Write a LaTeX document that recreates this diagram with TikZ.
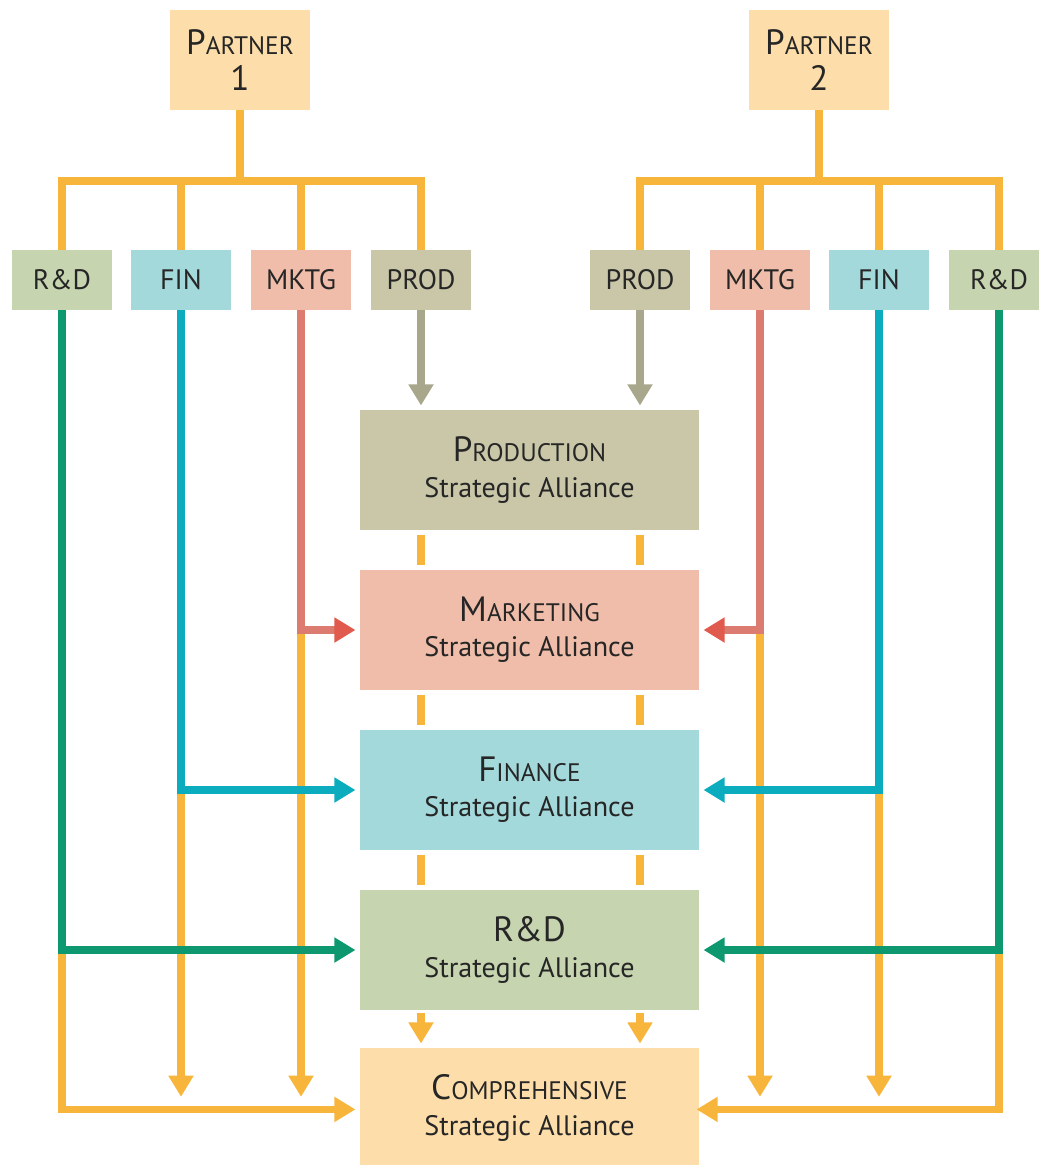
\documentclass[tikz,border=0pt]{standalone}
\usepackage{fontspec}
\setmainfont{PT Sans}
\usetikzlibrary{arrows.meta,positioning}

\definecolor{ptnfill}{HTML}{FDDDAA}
\definecolor{rdfill}{HTML}{C6D5AF}
\definecolor{finfill}{HTML}{A4D9DB}
\definecolor{mktfill}{HTML}{EFBDA9}
\definecolor{prdfill}{HTML}{C9C7A8}
\definecolor{orline}{HTML}{F8B53C}
\definecolor{gyline}{HTML}{A8A68B}
\definecolor{mkline}{HTML}{DC7B70}
\definecolor{mkhead}{HTML}{E05A4E}
\definecolor{fnline}{HTML}{0AACBE}
\definecolor{rdline}{HTML}{0E9870}

% fake small caps: big initial, smaller rest
\newcommand{\fsc}[2]{{\fontsize{25}{27}\selectfont #1}{\fontsize{18}{27}\selectfont #2}}

\begin{document}
\begin{tikzpicture}[x=0.025cm, y=-0.025cm,
	every node/.style={inner sep=0pt, text=black!85, font=\fontsize{20}{25}\selectfont},
	unit/.style={minimum width=2.5cm, minimum height=1.5cm},
	ptn/.style={fill=ptnfill, minimum width=3.5cm, minimum height=2.5cm, align=center},
	alli/.style={minimum width=8.475cm, minimum height=3cm, align=center},
	obus/.style={draw=orline, line width=5pt},
	tip/.style={-{Triangle[length=15pt,width=17pt]}},
	oarr/.style={obus, tip, shorten >=3pt},
	carr/.style={line width=5pt, tip, shorten >=3pt}]
	
	\useasboundingbox (0,0) rectangle (1039,1165);
	
	% Partners
	\node[ptn] (p1) at (240,60) {\fsc{P}{ARTNER}\\{\fontsize{25}{27}\selectfont 1}};
	\node[ptn] (p2) at (819,60) {\fsc{P}{ARTNER}\\{\fontsize{25}{27}\selectfont 2}};
	
	% Functions
	\node[unit, fill=rdfill] (rd1) at (62,280) {R\&D};
	\node[unit, fill=finfill] (fin1) at (181,280) {FIN};
	\node[unit, fill=mktfill] (mktg1) at (301,280) {MKTG};
	\node[unit, fill=prdfill] (prod1) at (421,280) {PROD};
	
	\node[unit, fill=prdfill] (prod2) at (640,280) {PROD};
	\node[unit, fill=mktfill] (mktg2) at (760,280) {MKTG};
	\node[unit, fill=finfill] (fin2) at (879,280) {FIN};
	\node[unit, fill=rdfill] (rd2) at (999,280) {R\&D};
	
	% Alliances
	\node[alli, fill=prdfill] (prodsa) at (529.5,470) {\fsc{P}{RODUCTION}\\Strategic Alliance};
	\node[alli, fill=mktfill] (mktgsa) at (529.5,630) {\fsc{M}{ARKETING}\\Strategic Alliance};
	\node[alli, fill=finfill] (finsa) at (529.5,790) {\fsc{F}{INANCE}\\Strategic Alliance};
	\node[alli, fill=rdfill] (rdsa) at (529.5,950) {{\fontsize{25}{27}\selectfont R\&D}\\Strategic Alliance};
	\node[alli, fill=ptnfill] (compsa) at (529.5,1108) {\fsc{C}{OMPREHENSIVE}\\Strategic Alliance};
	
	\coordinate (b1) at (240,181);
	\coordinate (b2) at (819,181);
	\coordinate (lo) at (0,1101);
	
	% Buses
	\draw[obus] (p1.south) -- (b1);
	\draw[obus] (p2.south) -- (b2);
	\foreach \n in {rd1,fin1,mktg1,prod1}
		\draw[obus] (b1) -| (\n.north);
	\foreach \n in {rd2,fin2,mktg2,prod2}
		\draw[obus] (b2) -| (\n.north);
	
	% Orange links between alliances
	\foreach \n in {prod1,prod2}{
		\draw[obus, shorten <=3pt, shorten >=3pt] (\n |- prodsa.south) -- (\n |- mktgsa.north);
		\draw[obus, shorten <=3pt, shorten >=3pt] (\n |- mktgsa.south) -- (\n |- finsa.north);
		\draw[obus, shorten <=3pt, shorten >=3pt] (\n |- finsa.south) -- (\n |- rdsa.north);
		\draw[oarr, shorten <=2pt] (\n |- rdsa.south) -- (\n |- compsa.north);
	}
	
	% Orange continuations
	\draw[oarr] (mktg1 |- mktgsa.west) -- (mktg1 |- lo);
	\draw[oarr] (fin1 |- finsa.west) -- (fin1 |- lo);
	\draw[oarr] (rd1 |- rdsa.west) |- ([yshift=-1pt]compsa.west);
	\draw[oarr] (mktg2 |- mktgsa.east) -- (mktg2 |- lo);
	\draw[oarr] (fin2 |- finsa.east) -- (fin2 |- lo);
	\draw[oarr] (rd2 |- rdsa.east) |- ([xshift=-5pt,yshift=-1pt]compsa.east);
	
	% Function links
	\draw[carr, draw=gyline] (prod1.south) -- (prodsa.north -| prod1);
	\draw[carr, draw=gyline] (prod2.south) -- (prodsa.north -| prod2);
	\draw[carr, draw=mkline, -{Triangle[length=15pt,width=17pt,color=mkhead]}] (mktg1.south) |- (mktgsa.west);
	\draw[carr, draw=mkline, -{Triangle[length=15pt,width=17pt,color=mkhead]}] (mktg2.south) |- (mktgsa.east);
	\draw[carr, draw=fnline] (fin1.south) |- (finsa.west);
	\draw[carr, draw=fnline] (fin2.south) |- (finsa.east);
	\draw[carr, draw=rdline] (rd1.south) |- (rdsa.west);
	\draw[carr, draw=rdline] (rd2.south) |- (rdsa.east);
	
\end{tikzpicture}
\end{document}
